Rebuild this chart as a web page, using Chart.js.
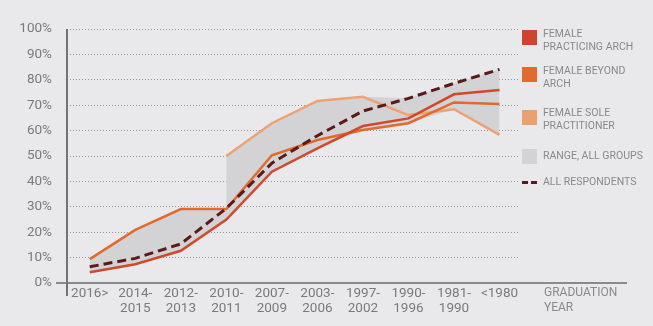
<!DOCTYPE html>
<html>
<head>
<meta charset="utf-8">
<script src="https://cdn.jsdelivr.net/npm/chart.js@4/dist/chart.umd.min.js"></script>
<style>
  html, body { margin: 0; padding: 0; background: #e9e9eb; }
  #wrap { position: relative; width: 653px; height: 326px; overflow: hidden; }
  canvas { position: absolute; left: 0; top: 0; }
  .lg { position: absolute; font-family: Roboto, sans-serif; color: #89898b; font-size: 10.5px; line-height: 12.5px; }
  .sw { position: absolute; width: 15px; height: 15px; }
  .dash { position: absolute; height: 3px; width: 6px; background: #5a1a1a; }
  .title { position: absolute; font-family: Roboto, sans-serif; color: #89898b; font-size: 12px; line-height: 15px; }
</style>
</head>
<body>
<div id="wrap">
  <canvas id="c" width="653" height="326"></canvas>

  <div class="sw" style="left:522px;top:30px;background:#cc4530"></div>
  <div class="lg" style="left:543px;top:28px">FEMALE<br>PRACTICING ARCH</div>

  <div class="sw" style="left:522px;top:67px;background:#e06a30"></div>
  <div class="lg" style="left:543px;top:65px">FEMALE BEYOND<br>ARCH</div>

  <div class="sw" style="left:522px;top:110px;background:#eba070"></div>
  <div class="lg" style="left:543px;top:107px">FEMALE SOLE<br>PRACTITIONER</div>

  <div class="sw" style="left:522px;top:149px;background:#d3d3d5"></div>
  <div class="lg" style="left:543px;top:150px">RANGE, ALL GROUPS</div>

  <div class="dash" style="left:522px;top:181px"></div>
  <div class="dash" style="left:531px;top:181px"></div>
  <div class="lg" style="left:543px;top:176px">ALL RESPONDENTS</div>

  <div class="title" style="left:544px;top:285px">GRADUATION<br>YEAR</div>
</div>

<script>
// Graduation cohorts, newest first
const categories = ['2016>', '2014-2015', '2012-2013', '2010-2011', '2007-2009',
                    '2003-2006', '1997-2002', '1990-1996', '1981-1990', '<1980'];

// Share of respondents (%) per cohort
const femalePracticing = [4.2, 7.4, 12.7, 25.0, 43.8, 53.0, 61.8, 64.8, 74.3, 76.0];
const femaleBeyond     = [9.4, 20.9, 29.1, 29.1, 50.3, 56.3, 60.2, 62.9, 71.1, 70.5];
const femaleSole       = [null, null, null, 50.0, 62.9, 71.7, 73.3, 66.1, 68.4, 58.3];
const allRespondents   = [6.4, 9.7, 15.4, 29.4, 47.2, 58.0, 67.7, 72.7, 78.6, 84.1];

const yTicks = [0, 10, 20, 30, 40, 50, 60, 70, 80, 90, 100];

// Envelope of all groups; when a series starts mid-way the envelope steps vertically
function buildRange() {
  const series = [femalePracticing, femaleBeyond, femaleSole, allRespondents];
  const hi = [], lo = [];
  categories.forEach((_, i) => {
    const now = series.filter(s => s[i] != null).map(s => s[i]);
    const starting = i > 0 && series.some(s => s[i] != null && s[i - 1] == null);
    if (starting) {
      const before = series.filter(s => s[i - 1] != null && s[i] != null).map(s => s[i]);
      hi.push({ x: i, y: Math.max(...before) });
      lo.push({ x: i, y: Math.min(...before) });
    }
    hi.push({ x: i, y: Math.max(...now) });
    lo.push({ x: i, y: Math.min(...now) });
  });
  return { hi, lo };
}
const range = buildRange();

const toPoints = arr => arr.map((v, i) => ({ x: i, y: v }));

const splitLabel = s => {
  const k = s.indexOf('-');
  return k < 0 ? [s] : [s.slice(0, k + 1), s.slice(k + 1)];
};

// Axis lines: y axis runs a little below zero, x axis runs out under the legend
const axisLines = {
  id: 'axisLines',
  afterDatasetsDraw(chart) {
    const { ctx, chartArea } = chart;
    const y0 = chart.scales.y.getPixelForValue(0);
    ctx.save();
    ctx.setLineDash([]);
    ctx.strokeStyle = '#8a8a8c';
    ctx.lineWidth = 2;
    ctx.beginPath();
    ctx.moveTo(56, y0);
    ctx.lineTo(627, y0);
    ctx.stroke();
    ctx.strokeStyle = '#737375';
    ctx.beginPath();
    ctx.moveTo(chartArea.left, chartArea.top);
    ctx.lineTo(chartArea.left, y0 + 13);
    ctx.stroke();
    ctx.restore();
  }
};

const line = (data, color, width, dash) => ({
  data: toPoints(data),
  borderColor: color,
  borderWidth: width,
  borderDash: dash || [],
  pointRadius: 0,
  tension: 0,
  fill: false,
  spanGaps: false
});

new Chart(document.getElementById('c'), {
  type: 'line',
  data: {
    datasets: [
      line(allRespondents, '#5a1a1a', 3, [9, 5]),
      line(femalePracticing, '#cf4a2c', 2.5),
      line(femaleBeyond, '#e06b2e', 2.5),
      line(femaleSole, '#eda274', 2.5),
      { data: range.lo, borderWidth: 0, pointRadius: 0, fill: false },
      { data: range.hi, borderWidth: 0, pointRadius: 0, fill: '-1', backgroundColor: '#d3d3d5' }
    ]
  },
  options: {
    responsive: false,
    animation: false,
    layout: { padding: { top: 29, right: 133, bottom: 0, left: 0 } },
    plugins: { legend: { display: false }, tooltip: { enabled: false } },
    scales: {
      x: {
        type: 'linear',
        min: -0.5,
        max: 9.45,
        afterBuildTicks: s => { s.ticks = categories.map((_, i) => ({ value: i })); },
        afterFit: s => { s.height = 43; },
        grid: { display: false, drawTicks: false },
        border: { display: false },
        ticks: {
          autoSkip: false,
          maxRotation: 0,
          padding: 3,
          color: '#7a7a7c',
          font: { family: 'Roboto', size: 13.5, lineHeight: 1.1 },
          callback: v => splitLabel(categories[v])
        }
      },
      y: {
        min: 0,
        max: 100,
        afterBuildTicks: s => { s.ticks = yTicks.map(v => ({ value: v })); },
        afterFit: s => { s.width = 67; },
        grid: { color: '#949496', lineWidth: 1, drawTicks: false },
        border: { display: false, dash: [1, 2] },
        ticks: {
          padding: 15,
          color: '#7a7a7c',
          font: { family: 'Roboto', size: 13.5 },
          callback: v => v + '%'
        }
      }
    }
  },
  plugins: [axisLines]
});
</script>
</body>
</html>
